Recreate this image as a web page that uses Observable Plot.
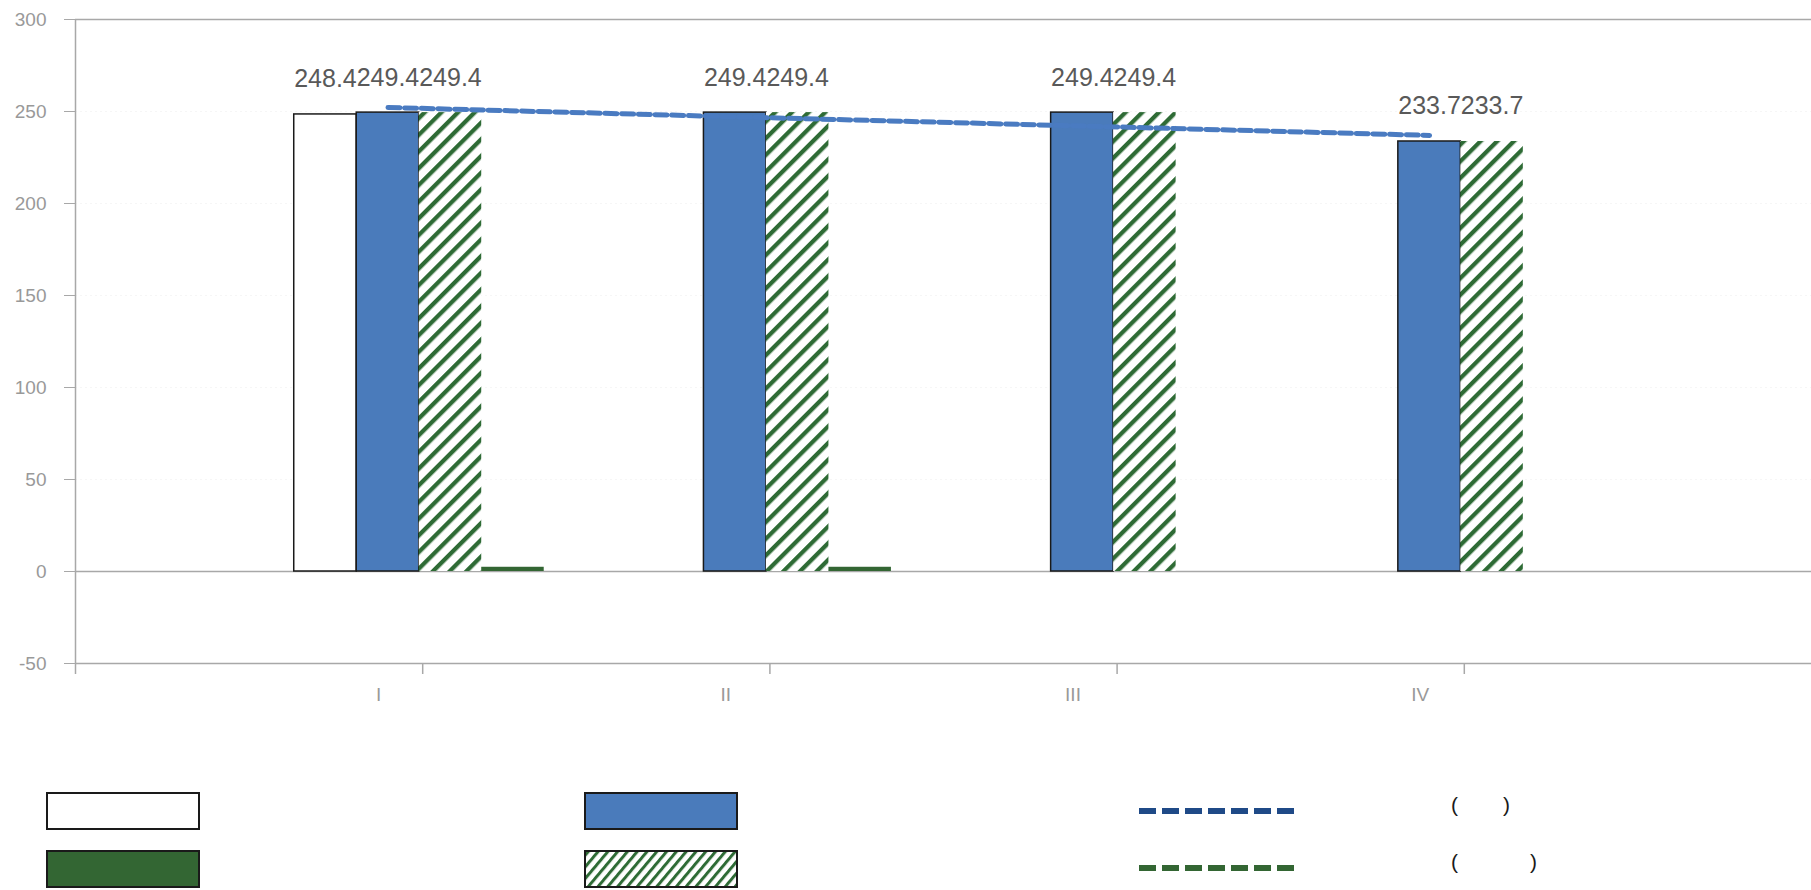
<!DOCTYPE html>
<html>
<head>
<meta charset="utf-8">
<script src="https://cdn.jsdelivr.net/npm/d3@7"></script>
<script src="https://cdn.jsdelivr.net/npm/@observablehq/plot@0.6"></script>
<style>
  html, body { margin: 0; padding: 0; background: #ffffff; }
  #wrap { position: relative; width: 1811px; font-family: "Liberation Sans", Arial, sans-serif; }
  #legend { position: relative; width: 1811px; height: 130px; }
  .sw { position: absolute; box-sizing: border-box; }
  .lt { position: absolute; font-size: 21px; color: #1a1a1a; line-height: 1; white-space: pre; }
</style>
</head>
<body>
<div id="wrap"><div id="chart"></div><div id="legend"></div></div>
<script>
// ---- data ----
const categories = ["I", "II", "III", "IV"];
const whiteVals = [248.4, null, null, null];
const blueVals  = [249.4, 249.4, 249.4, 233.7];
const hatchVals = [249.4, 249.4, 249.4, 233.7];
const greenVals = [2.3, 2.3, null, null];
const trendVals = [252.2, 247.1, 242.1, 237.0];
const yTicks = [-50, 0, 50, 100, 150, 200, 250, 300];
const legendTexts = [["(", ")"], ["(", ")"]];

// ---- layout ----
const W = 0.18;           // bar width in x units
const groupShift = -0.01; // group centre relative to category tick
const labelShift = -0.127;
const trendShift = -0.1;

const series = [
  {values: whiteVals, fill: "#ffffff", stroke: "#1a1a1a", label: true},
  {values: blueVals,  fill: "#4a7bbb", stroke: "#1a1a1a", label: true},
  {values: hatchVals, fill: "url(#hatch)", stroke: "none", label: true},
  {values: greenVals, fill: "#336633", stroke: "none", label: false}
];

function rowsOf(s, k) {
  return s.values.map((v, i) => ({i, k, value: v}))
    .filter(d => d.value != null)
    .map(d => ({...d, x1: d.i + 1 + groupShift + (d.k - 2) * W, x2: d.i + 1 + groupShift + (d.k - 1) * W}));
}

const barMarks = series.map((s, k) => Plot.rect(rowsOf(s, k), {
  x1: "x1", x2: "x2", y1: () => 0, y2: "value",
  fill: s.fill, stroke: s.stroke, strokeWidth: s.stroke === "none" ? 0 : 1.5
}));

const labelRows = series.flatMap((s, k) => s.label ? rowsOf(s, k) : []);

const chart = Plot.plot({
  width: 1811,
  height: 760,
  marginLeft: 75,
  marginRight: 0,
  marginTop: 19,
  marginBottom: 97,
  style: {background: "#ffffff", fontFamily: "Liberation Sans, Arial, sans-serif", overflow: "visible"},
  x: {type: "linear", domain: [0, 5], axis: null},
  y: {type: "linear", domain: [-50, 300], axis: null},
  marks: [
    Plot.ruleY(yTicks.filter(t => t > 0 && t < 300), {stroke: "#f6f6f6", strokeWidth: 1, strokeDasharray: "2,3"}),
    Plot.ruleY([300, 0, -50], {stroke: "#a8a8a8", strokeWidth: 1.5}),
    Plot.ruleX([0], {stroke: "#a8a8a8", strokeWidth: 1.5}),
    Plot.axisY({ticks: yTicks, label: null, tickSize: 11, tickPadding: 18, stroke: "#a8a8a8", fill: "#999999", fontSize: 19, tickFormat: d => String(d)}),
    Plot.axisX({ticks: [0, 1, 2, 3, 4], label: null, tickSize: 11, tickFormat: () => "", stroke: "#a8a8a8", strokeWidth: 1.5}),
    Plot.text(categories, {x: (d, i) => i + 1 + labelShift, y: () => -50, text: d => d, dy: 31, fontSize: 19, fill: "#999999"}),
    ...barMarks,
    Plot.text(labelRows, {x: d => (d.x1 + d.x2) / 2, y: "value", text: d => d.value.toFixed(1), dy: -27, lineAnchor: "bottom", fontSize: 25, fill: "#595959"}),
    Plot.line(trendVals, {x: (d, i) => i + 1 + trendShift, y: d => d, stroke: "#4a7bc1", strokeWidth: 5, strokeDasharray: "12,4.7"})
  ]
});

// hatch pattern
const ns = "http://www.w3.org/2000/svg";
function makeHatch(doc, id, size, stripe) {
  const defs = doc.createElementNS(ns, "defs");
  const p = doc.createElementNS(ns, "pattern");
  p.setAttribute("id", id);
  p.setAttribute("patternUnits", "userSpaceOnUse");
  p.setAttribute("width", size);
  p.setAttribute("height", size);
  p.setAttribute("patternTransform", "rotate(45)");
  const bg = doc.createElementNS(ns, "rect");
  bg.setAttribute("width", size); bg.setAttribute("height", size); bg.setAttribute("fill", "#ffffff");
  const st = doc.createElementNS(ns, "rect");
  st.setAttribute("width", stripe); st.setAttribute("height", size); st.setAttribute("fill", "#2e6b35");
  p.appendChild(bg); p.appendChild(st); defs.appendChild(p);
  return defs;
}
chart.insertBefore(makeHatch(document, "hatch", 11.8, 4.3), chart.firstChild);
document.getElementById("chart").appendChild(chart);

// ---- legend (below the svg) ----
const top0 = 760;
const legend = document.getElementById("legend");
const boxes = [
  {left: 46, top: 792, fill: "#ffffff"},
  {left: 584, top: 792, fill: "#4a7bbb"},
  {left: 46, top: 850, fill: "#336633"},
  {left: 584, top: 850, fill: "hatch"}
];
boxes.forEach(b => {
  const el = document.createElement("div");
  el.className = "sw";
  el.style.left = b.left + "px";
  el.style.top = (b.top - top0) + "px";
  el.style.width = "154px";
  el.style.height = "38px";
  el.style.border = "2px solid #1a1a1a";
  if (b.fill === "hatch") {
    el.innerHTML = '<svg width="150" height="34" style="display:block"><defs><pattern id="hatchL" patternUnits="userSpaceOnUse" width="7.5" height="7.5" patternTransform="rotate(40)"><rect width="7.5" height="7.5" fill="#fff"/><rect width="3" height="7.5" fill="#2e6b35"/></pattern></defs><rect width="150" height="34" fill="url(#hatchL)"/></svg>';
  } else {
    el.style.background = b.fill;
  }
  legend.appendChild(el);
});
const lines = [
  {top: 811, color: "#1f4a87", texts: legendTexts[0], pos: [1451, 1503]},
  {top: 868, color: "#336633", texts: legendTexts[1], pos: [1451, 1530]}
];
lines.forEach(l => {
  const el = document.createElement("div");
  el.className = "sw";
  el.style.left = "1139px";
  el.style.top = (l.top - top0 - 3) + "px";
  el.innerHTML = `<svg width="160" height="6" style="display:block"><line x1="0" y1="3" x2="160" y2="3" stroke="${l.color}" stroke-width="6" stroke-dasharray="17,6"/></svg>`;
  legend.appendChild(el);
  l.texts.forEach((t, j) => {
    const s = document.createElement("span");
    s.className = "lt";
    s.textContent = t;
    s.style.left = l.pos[j] + "px";
    s.style.top = (l.top - top0 - 17) + "px";
    legend.appendChild(s);
  });
});
</script>
</body>
</html>
